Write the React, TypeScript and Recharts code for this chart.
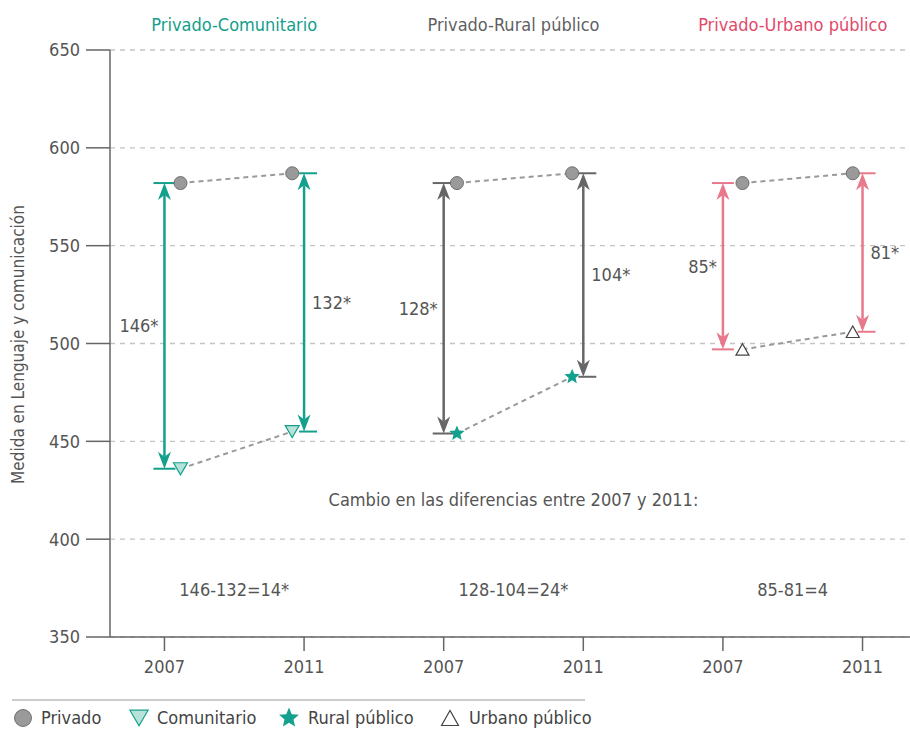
import React from "react";
import {
  ComposedChart,
  Scatter,
  XAxis,
  YAxis,
  CartesianGrid,
  ReferenceLine,
  ReferenceDot,
} from "recharts";

const FONT = '"Liberation Sans Narrow", "DejaVu Sans Condensed", "Roboto", sans-serif';

// data
const groups = ["Privado-Comunitario", "Privado-Rural público", "Privado-Urbano público"];
const xTickLabels = ["2007", "2011", "2007", "2011", "2007", "2011"];
const yTicks = [350, 400, 450, 500, 550, 600, 650];

const privado = [582, 587];
const comunitario = [436, 455];
const ruralPublico = [454, 483];
const urbanoPublico = [497, 506];

const gapLabels = [
  ["146*", "132*"],
  ["128*", "104*"],
  ["85*", "81*"],
];
const changeTitle = "Cambio en las diferencias entre 2007 y 2011:";
const changeLabels = ["146-132=14*", "128-104=24*", "85-81=4"];
const legendLabels = ["Privado", "Comunitario", "Rural público", "Urbano público"];

// styling
const TEAL = "#13a08c";
const GREY = "#666666";
const titleColors = [TEAL, "#5f5f5f", "#e2496b"];
const arrowColors = [TEAL, GREY, "#e8788b"];
const TEXT = "#555555";
const FS = 18;
const MARKER_SHIFT = [0.115, -0.085, 0.095, -0.08, 0.14, -0.07];

type Kind = "circle" | "triDown" | "star" | "triUp";
const kinds: Kind[] = ["triDown", "star", "triUp"];
const compared = [comunitario, ruralPublico, urbanoPublico];

function starPath(cx: number, cy: number, R: number) {
  const r = R * 0.45;
  let d = "";
  for (let i = 0; i < 10; i++) {
    const rad = i % 2 === 0 ? R : r;
    const a = -Math.PI / 2 + (i * Math.PI) / 5;
    d += `${i === 0 ? "M" : "L"}${cx + rad * Math.cos(a)},${cy + rad * Math.sin(a)}`;
  }
  return d + "Z";
}

function Marker({ kind, cx, cy, big }: { kind: Kind; cx: number; cy: number; big?: boolean }) {
  const s = big ? 1.3 : 1;
  if (kind === "circle")
    return <circle cx={cx} cy={cy} r={6.5 * s} fill="#9a9a9a" stroke="#6e6e6e" strokeWidth={1} />;
  if (kind === "triDown") {
    const w = 7 * s, h = 12 * s;
    return (
      <path
        d={`M${cx - w},${cy - h / 2}L${cx + w},${cy - h / 2}L${cx},${cy + h / 2}Z`}
        fill="#b7e2da"
        stroke={TEAL}
        strokeWidth={1.2}
      />
    );
  }
  if (kind === "triUp") {
    const w = 6.5 * s, h = 11.5 * s;
    return (
      <path
        d={`M${cx - w},${cy + h / 2}L${cx + w},${cy + h / 2}L${cx},${cy - h / 2}Z`}
        fill="#ffffff"
        stroke="#444444"
        strokeWidth={1.2}
      />
    );
  }
  return <path d={starPath(cx, cy, 8 * s)} fill={TEAL} />;
}

function GapArrow(props: any) {
  const { x1, y1, y2, color, left, label } = props;
  if (x1 == null || y1 == null || y2 == null) return null;
  const x = x1;
  const top = Math.min(y1, y2);
  const bot = Math.max(y1, y2);
  const cap = left ? [-11, 11] : [-5, 13];
  const hl = 17, hw = 6.5, notch = 12;
  return (
    <g>
      <line x1={x} y1={top + notch} x2={x} y2={bot - notch} stroke={color} strokeWidth={2.5} />
      <path d={`M${x},${top}L${x + hw},${top + hl}L${x},${top + notch}L${x - hw},${top + hl}Z`} fill={color} />
      <path d={`M${x},${bot}L${x + hw},${bot - hl}L${x},${bot - notch}L${x - hw},${bot - hl}Z`} fill={color} />
      <line x1={x + cap[0]} y1={top} x2={x + cap[1]} y2={top} stroke={color} strokeWidth={2} />
      <line x1={x + cap[0]} y1={bot} x2={x + cap[1]} y2={bot} stroke={color} strokeWidth={2} />
      <text
        x={left ? x - 6 : x + 8}
        y={(top + bot) / 2}
        dy="0.35em"
        textAnchor={left ? "end" : "start"}
        fontSize={FS}
        fill={TEXT}
      >
        {label}
      </text>
    </g>
  );
}

function YLabel(props: any) {
  const { viewBox } = props;
  const cy = viewBox.y + viewBox.height / 2 + 1;
  return (
    <text x={18} y={cy} transform={`rotate(-90, 18, ${cy})`} textAnchor="middle" dy="0.35em" fontSize={17} fill={TEXT}>
      Medida en Lenguaje y comunicación
    </text>
  );
}

function Legend() {
  const y = 28;
  const items: { kind: Kind; mx: number; tx: number }[] = [
    { kind: "circle", mx: 23, tx: 41 },
    { kind: "triDown", mx: 139, tx: 157 },
    { kind: "star", mx: 289, tx: 308 },
    { kind: "triUp", mx: 450, tx: 469 },
  ];
  return (
    <svg width={600} height={45} style={{ position: "absolute", left: 0, top: 690 }}>
      <line x1={12} y1={10} x2={585} y2={10} stroke="#9a9a9a" strokeWidth={1.2} />
      {items.map((it, i) => (
        <g key={i}>
          <Marker kind={it.kind} cx={it.mx} cy={y} big />
          <text x={it.tx} y={y} dy="0.35em" fontSize={FS} fill="#444">
            {legendLabels[i]}
          </text>
        </g>
      ))}
    </svg>
  );
}

export default function App() {
  return (
    <div style={{ position: "absolute", left: 0, top: 0, width: 910, height: 731, fontFamily: FONT, background: "#fff" }}>
      <ComposedChart width={910} height={731} margin={{ top: 50, right: 0, left: 0, bottom: 64 }}>
        <CartesianGrid vertical={false} strokeDasharray="5 5" stroke="#c4c4c4" strokeWidth={1.3} />
        <XAxis
          type="number"
          dataKey="x"
          domain={[-0.39, 5.34]}
          ticks={[0, 1, 2, 3, 4, 5]}
          interval={0}
          allowDataOverflow
          tickFormatter={(v: number) => xTickLabels[v]}
          tickSize={14}
          tickMargin={9}
          height={30}
          axisLine={{ stroke: GREY, strokeWidth: 1.5 }}
          tickLine={{ stroke: GREY, strokeWidth: 1.5 }}
          tick={{ fontSize: FS, fill: TEXT }}
        />
        <YAxis
          type="number"
          dataKey="y"
          domain={[350, 650]}
          ticks={yTicks}
          interval={0}
          allowDataOverflow
          width={110}
          tickSize={24}
          tickMargin={6}
          axisLine={{ stroke: GREY, strokeWidth: 1.5 }}
          tickLine={{ stroke: GREY, strokeWidth: 1.5 }}
          tick={{ fontSize: FS, fill: TEXT }}
          label={{ content: <YLabel /> }}
        />

        {groups.map((g, gi) =>
          [0, 1].map((j) => {
            const pos = gi * 2 + j;
            return (
              <ReferenceLine
                key={`arrow-${g}-${j}`}
                segment={[
                  { x: pos, y: privado[j] },
                  { x: pos, y: compared[gi][j] },
                ]}
                ifOverflow="visible"
                shape={(p: any) => (
                  <GapArrow {...p} color={arrowColors[gi]} left={j === 0} label={gapLabels[gi][j]} />
                )}
              />
            );
          })
        )}

        {groups.map((g, gi) => {
          const pts = (vals: number[]) =>
            vals.map((v, j) => ({ x: gi * 2 + j + MARKER_SHIFT[gi * 2 + j], y: v }));
          const lineStyle = { stroke: "#9a9a9a", strokeWidth: 2, strokeDasharray: "5 4" };
          return [
            <Scatter
              key={`priv-${g}`}
              data={pts(privado)}
              dataKey="y"
              line={lineStyle}
              isAnimationActive={false}
              shape={(p: any) => <Marker kind="circle" cx={p.cx} cy={p.cy} />}
            />,
            <Scatter
              key={`cmp-${g}`}
              data={pts(compared[gi])}
              dataKey="y"
              line={lineStyle}
              isAnimationActive={false}
              shape={(p: any) => <Marker kind={kinds[gi]} cx={p.cx} cy={p.cy} />}
            />,
          ];
        })}

        {groups.map((g, gi) => (
          <ReferenceDot
            key={`title-${g}`}
            x={gi * 2 + 0.5}
            y={663}
            r={0}
            ifOverflow="visible"
            label={{ value: g, position: "center", fontSize: FS, fill: titleColors[gi] }}
          />
        ))}

        <ReferenceDot
          x={2.5}
          y={420}
          r={0}
          ifOverflow="visible"
          label={{ value: changeTitle, position: "center", fontSize: FS, fill: TEXT }}
        />
        {changeLabels.map((c, gi) => (
          <ReferenceDot
            key={`chg-${gi}`}
            x={gi * 2 + 0.5}
            y={374}
            r={0}
            ifOverflow="visible"
            label={{ value: c, position: "center", fontSize: FS, fill: TEXT }}
          />
        ))}
      </ComposedChart>
      <Legend />
    </div>
  );
}
